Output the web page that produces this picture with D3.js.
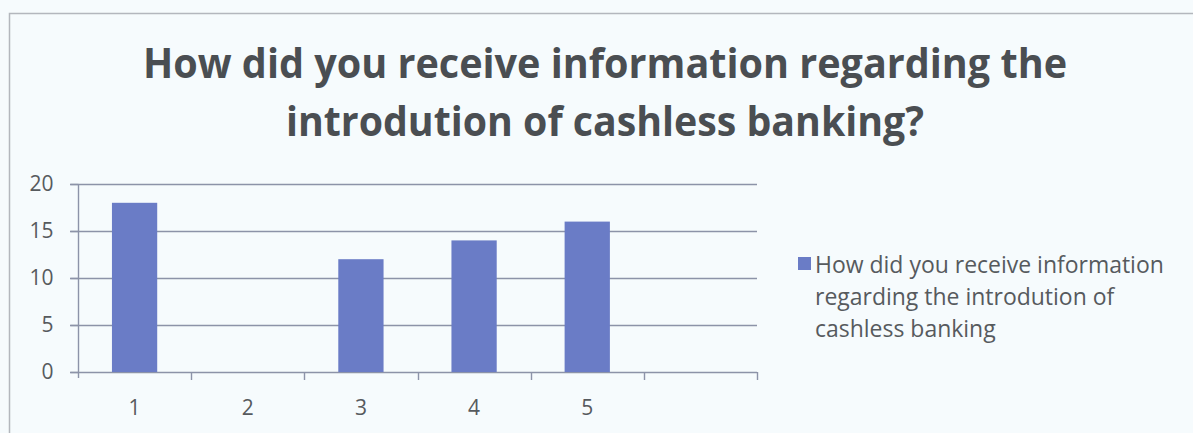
<!DOCTYPE html>
<html>
<head>
<meta charset="utf-8">
<script src="https://cdn.jsdelivr.net/npm/d3@7"></script>
<style>
  html, body { margin: 0; padding: 0; background: #f6fbfd; }
  svg { display: block; }
</style>
</head>
<body>
<svg id="chart" width="1193" height="433"></svg>
<script>
// Survey responses: how people learned about cashless banking
const categories = ["1", "2", "3", "4", "5", ""];
const values = [18, 0, 12, 14, 16, null];
const yTicks = [0, 5, 10, 15, 20];
const titleLines = [
  "How did you receive information regarding the",
  "introdution of cashless banking?"
];
const legendLines = [
  "How did you receive information",
  "regarding the introdution of",
  "cashless banking"
];

const svg = d3.select("#chart");
const W = 1193, H = 433;
const plot = { left: 78, right: 757, top: 184, bottom: 372 };
const barColor = "#6a7cc6";
const gridColor = "#8c93a8";
const textColor = "#565a5e";
const font = "'Open Sans', 'Noto Sans', sans-serif";

// outer frame (top and left edges)
svg.append("path")
  .attr("d", `M9.5,${H} V13.5 H${W}`)
  .attr("fill", "none")
  .attr("stroke", "#b3b7bd")
  .attr("stroke-width", 1.5);

// title
const title = svg.append("g");
const titleBaselines = [78, 136];
const titleWidths = [924, 638];
titleLines.forEach((t, i) => {
  const el = title.append("text")
    .attr("x", 605)
    .attr("y", titleBaselines[i])
    .attr("text-anchor", "middle")
    .attr("font-family", font)
    .attr("font-weight", 700)
    .attr("font-size", 41)
    .attr("fill", "#4a4e52")
    .text(t);
  const w = el.node().getComputedTextLength();
  if (w > titleWidths[i]) {
    el.attr("textLength", titleWidths[i]).attr("lengthAdjust", "spacingAndGlyphs");
  }
});

// scales
const x = d3.scaleBand()
  .domain(categories)
  .range([plot.left, plot.right])
  .paddingInner(0.6)
  .paddingOuter(0.3);

const y = d3.scaleLinear()
  .domain([0, 20])
  .range([plot.bottom, plot.top]);

// horizontal gridlines
svg.append("g")
  .selectAll("line")
  .data(yTicks)
  .join("line")
  .attr("x1", plot.left - 8)
  .attr("x2", plot.right)
  .attr("y1", d => Math.round(y(d)) + 0.5)
  .attr("y2", d => Math.round(y(d)) + 0.5)
  .attr("stroke", gridColor)
  .attr("stroke-width", 1.4);

// y axis
const yAxis = svg.append("g")
  .attr("transform", `translate(${plot.left + 0.5},0)`)
  .call(d3.axisLeft(y).tickValues(yTicks).tickSize(8).tickPadding(17));
yAxis.select(".domain").remove();
yAxis.selectAll(".tick line").attr("stroke", gridColor).attr("stroke-width", 1.4);
yAxis.selectAll("text")
  .attr("font-family", font)
  .attr("font-size", 21)
  .attr("fill", textColor);
svg.append("line")
  .attr("x1", plot.left + 0.5).attr("x2", plot.left + 0.5)
  .attr("y1", plot.top).attr("y2", plot.bottom + 6)
  .attr("stroke", gridColor).attr("stroke-width", 1.4);

// bars
svg.append("g")
  .selectAll("rect")
  .data(categories.map((c, i) => ({ c, v: values[i] })).filter(d => d.v != null && d.v > 0))
  .join("rect")
  .attr("x", d => x(d.c))
  .attr("width", x.bandwidth())
  .attr("y", d => y(d.v))
  .attr("height", d => y(0) - y(d.v))
  .attr("fill", barColor);

// x axis: category boundaries as ticks, labels centred in each band
const xAxis = svg.append("g");
const boundaries = d3.range(categories.length + 1).map(i => plot.left + i * x.step());
xAxis.selectAll("line.tick")
  .data(boundaries.slice(1))
  .join("line")
  .attr("class", "tick")
  .attr("x1", d => Math.round(d) + 0.5)
  .attr("x2", d => Math.round(d) + 0.5)
  .attr("y1", plot.bottom)
  .attr("y2", plot.bottom + 8)
  .attr("stroke", gridColor)
  .attr("stroke-width", 1.4);
xAxis.selectAll("text")
  .data(categories)
  .join("text")
  .attr("x", d => x(d) + x.bandwidth() / 2)
  .attr("y", 415)
  .attr("text-anchor", "middle")
  .attr("font-family", font)
  .attr("font-size", 21)
  .attr("fill", textColor)
  .text(d => d);

// legend
const legend = svg.append("g");
legend.append("rect")
  .attr("x", 798).attr("y", 257)
  .attr("width", 13).attr("height", 13)
  .attr("fill", barColor);
const legendBaselines = [273, 305, 337];
const legendFirstWidth = 349;
const lt = legend.selectAll("text")
  .data(legendLines)
  .join("text")
  .attr("x", 815)
  .attr("y", (d, i) => legendBaselines[i])
  .attr("font-family", font)
  .attr("font-size", 20)
  .attr("fill", textColor)
  .text(d => d);
const firstW = lt.node().getComputedTextLength();
const legendSize = 20 * legendFirstWidth / firstW;
lt.attr("font-size", legendSize);
</script>
</body>
</html>
